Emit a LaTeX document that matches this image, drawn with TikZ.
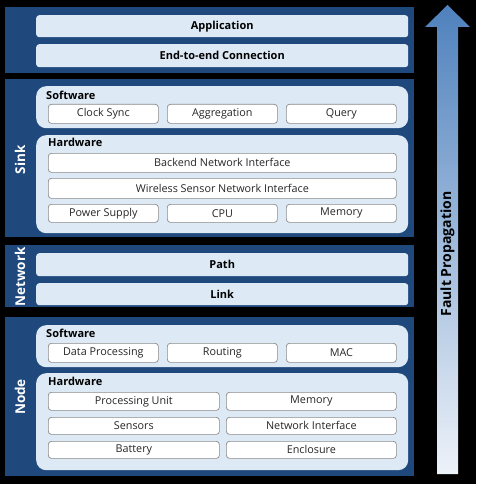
\documentclass[tikz,border=0pt]{standalone}
\usepackage{fontspec}
\setmainfont{Open Sans}
\definecolor{panelblue}{HTML}{1F497D}
\definecolor{traybg}{HTML}{DDEAF6}
\definecolor{cellline}{HTML}{8A8A8A}
\definecolor{arrowtop}{HTML}{4F81BD}
\definecolor{arrowbot}{HTML}{EDF2F9}
\definecolor{celltext}{HTML}{262626}
\tikzset{
  panel/.style={fill=panelblue, draw=none, anchor=north west, inner sep=0pt},
  band/.style={fill=traybg, rounded corners=3pt, anchor=north west, inner sep=0pt,
    font=\bfseries\fontsize{11}{13}\selectfont, minimum width=372pt},
  tray/.style={fill=traybg, rounded corners=10pt, anchor=north west, inner sep=0pt,
    minimum width=372pt},
  cell/.style={fill=white, draw=cellline, line width=0.7pt, rounded corners=3pt,
    anchor=north west, inner sep=0pt, text=celltext, font=\fontsize{10.8}{12}\selectfont},
  traylabel/.style={anchor=west, inner sep=0pt, font=\bfseries\fontsize{11}{13}\selectfont},
  sidelabel/.style={rotate=90, text=white, inner sep=0pt, font=\bfseries\fontsize{13.5}{16}\selectfont},
}
\begin{document}
\begin{tikzpicture}[x=1pt,y=-1pt]
\fill[black] (0,0) rectangle (476,484);
\useasboundingbox (0,0) rectangle (476,484);

% layer panels
\node[panel, minimum width=409pt, minimum height=66pt] (top) at (5,7) {};
\node[panel, minimum width=409pt, minimum height=158pt] (sink) at (5,79) {};
\node[panel, minimum width=409pt, minimum height=62pt] (net) at (5,245) {};
\node[panel, minimum width=409pt, minimum height=159pt] (node) at (5,317) {};

% side labels
\node[sidelabel] (sinklbl) at (20,160) {Sink};
\node[sidelabel] (netlbl) at (20,277) {Network};
\node[sidelabel] (nodelbl) at (20,397) {Node};

% application layers
\node[band, minimum height=22pt] (app) at (36,15) {Application};
\node[band, minimum height=23pt] (e2e) at (36,44) {End-to-end Connection};

% sink software
\node[tray, minimum height=42pt] (ssw) at (36,86) {};
\node[traylabel] (sswlbl) at (46,95) {Software};
\node[cell, minimum width=110pt, minimum height=19pt] (clk) at (48,104) {Clock Sync};
\node[cell, minimum width=110pt, minimum height=19pt] (agg) at (167,104) {Aggregation};
\node[cell, minimum width=110pt, minimum height=19pt] (qry) at (286,104) {Query};

% sink hardware
\node[tray, minimum height=98pt] (shw) at (36,135) {};
\node[traylabel] (shwlbl) at (48,142.5) {Hardware};
\node[cell, minimum width=348pt, minimum height=19pt] (bni) at (48,153) {Backend Network Interface};
\node[cell, minimum width=348pt, minimum height=20pt] (wsn) at (48,178) {Wireless Sensor Network Interface};
\node[cell, minimum width=110pt, minimum height=18pt] (psu) at (48,204) {Power Supply};
\node[cell, minimum width=110pt, minimum height=18pt] (cpu) at (167,204) {CPU};
\node[cell, minimum width=110pt, minimum height=18pt] (smem) at (286,204) {Memory};

% network layers
\node[band, minimum height=23pt] (path) at (36,253) {Path};
\node[band, minimum height=22pt] (link) at (36,283) {Link};

% node software
\node[tray, minimum height=42pt] (nsw) at (36,325) {};
\node[traylabel] (nswlbl) at (46,333) {Software};
\node[cell, minimum width=110pt, minimum height=19pt] (dp) at (48,343) {Data Processing};
\node[cell, minimum width=110pt, minimum height=19pt] (rt) at (167,343) {Routing};
\node[cell, minimum width=110pt, minimum height=19pt] (mac) at (286,343) {MAC};

% node hardware
\node[tray, minimum height=97pt] (nhw) at (36,373) {};
\node[traylabel] (nhwlbl) at (48,381) {Hardware};
\node[cell, minimum width=171pt, minimum height=18pt] (pu) at (48,392) {Processing Unit};
\node[cell, minimum width=170pt, minimum height=18pt] (nmem) at (226,392) {Memory};
\node[cell, minimum width=171pt, minimum height=17pt] (sens) at (48,417) {Sensors};
\node[cell, minimum width=170pt, minimum height=17pt] (nif) at (226,417) {Network Interface};
\node[cell, minimum width=171pt, minimum height=17pt] (bat) at (48,441) {Battery};
\node[cell, minimum width=170pt, minimum height=17pt] (enc) at (226,441) {Enclosure};

% fault propagation arrow
\shade[top color=arrowtop, bottom color=arrowbot]
  (447.5,5) -- (470,27) -- (458,27) -- (458,474) -- (437,474) -- (437,27) -- (425,27) -- cycle;
\node[rotate=90, inner sep=0pt, font=\bfseries\fontsize{14}{16}\selectfont] (fault) at (447.5,254) {Fault Propagation};
\end{tikzpicture}
\end{document}
